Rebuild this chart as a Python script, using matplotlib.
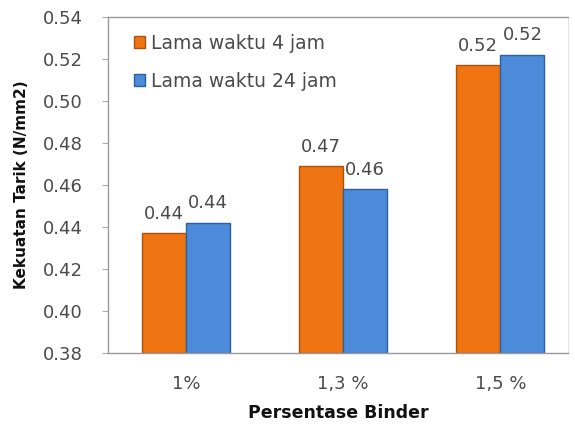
import matplotlib.pyplot as plt
import numpy as np

plt.rcParams['font.family'] = ['DejaVu Sans']

# tensile strength per binder content
categories = ['1%', '1,3 %', '1,5 %']
series_names = ['Lama waktu 4 jam', 'Lama waktu 24 jam']
strength_4h = [0.437, 0.469, 0.517]
strength_24h = [0.442, 0.458, 0.522]
yticks = [0.38, 0.40, 0.42, 0.44, 0.46, 0.48, 0.50, 0.52, 0.54]

colors = ['#F07412', '#4B8BD9']
edges = ['#A9530C', '#2E60A0']
text_grey = '#4a4a4a'

fig = plt.figure(figsize=(5.75, 4.26), dpi=100)
ax = fig.add_axes([108 / 575, 1 - 353 / 426, (568 - 108) / 575, (353 - 17) / 426])

x = np.arange(len(categories))
w = 0.28
for i, vals in enumerate([strength_4h, strength_24h]):
    pos = x + (i - 0.5) * w
    ax.bar(pos, np.array(vals) - 0.38, w, bottom=0.38, color=colors[i],
           edgecolor=edges[i], linewidth=1.0, label=series_names[i])
    for p, v in zip(pos, vals):
        ax.text(p, v + 0.005, f'{v:.2f}', ha='center', va='bottom',
                fontsize=13, color=text_grey)

ax.set_ylim(0.38, 0.54)
ax.set_xlim(-0.495, 2.43)
ax.set_yticks(yticks)
ax.set_yticklabels([f'{t:.2f}' for t in yticks], fontsize=13, color=text_grey)
ax.set_xticks(x)
ax.set_xticklabels(categories, fontsize=13, color=text_grey)
ax.tick_params(axis='x', length=0, pad=16)
ax.tick_params(axis='y', length=4, color='#aaaaaa', pad=14)

for s in ['left', 'bottom', 'top']:
    ax.spines[s].set_color('#9a9a9a')
    ax.spines[s].set_linewidth(1.0)
ax.spines['right'].set_color('#e4e4e4')

ax.set_ylabel('Kekuatan Tarik (N/mm2)', fontsize=11, fontweight='bold',
              color='#111111', labelpad=10)
ax.set_xlabel('Persentase Binder', fontsize=12.5, fontweight='bold',
              color='#111111', labelpad=8)

ax.legend(loc='upper left', bbox_to_anchor=(0.04, 0.972), frameon=False,
          fontsize=13.5, handlelength=0.6, handleheight=0.6, handletextpad=0.3,
          labelspacing=1.0, labelcolor=text_grey, borderaxespad=0)

fig.savefig('out.png', dpi=100, facecolor='white')
